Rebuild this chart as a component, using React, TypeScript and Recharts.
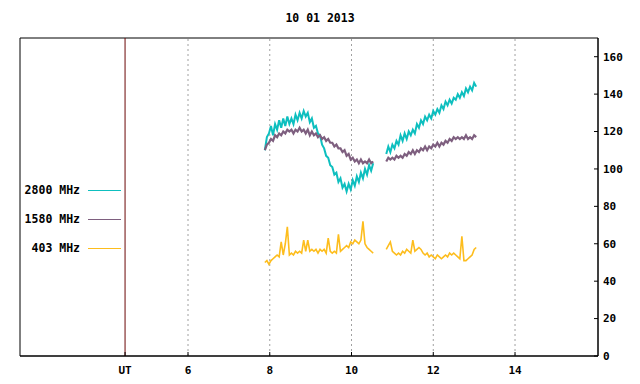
import React from 'react';
import { LineChart, Line, XAxis, YAxis, ReferenceLine, ReferenceArea } from 'recharts';

const title = '10 01 2013';
const seriesNames = ['2800 MHz', '1580 MHz', '403 MHz'];
const seriesColors = ['#0ebfbf', '#7e5f7f', '#fdbd1d'];

const times1 = [7.88, 7.93, 7.98, 8.03, 8.08, 8.13, 8.18, 8.23, 8.28, 8.33, 8.38, 8.43, 8.48, 8.53, 8.58, 8.63, 8.68, 8.73, 8.78, 8.83, 8.88, 8.93, 8.98, 9.03, 9.08, 9.13, 9.18, 9.23, 9.28, 9.33, 9.38, 9.43, 9.48, 9.53, 9.58, 9.63, 9.68, 9.73, 9.78, 9.83, 9.88, 9.93, 9.98, 10.03, 10.08, 10.13, 10.18, 10.23, 10.28, 10.33, 10.38, 10.43, 10.48, 10.53];
const gapTime = 10.7;
const times2 = [10.85, 10.9, 10.95, 11.0, 11.05, 11.1, 11.15, 11.2, 11.25, 11.3, 11.35, 11.4, 11.45, 11.5, 11.55, 11.6, 11.65, 11.7, 11.75, 11.8, 11.85, 11.9, 11.95, 12.0, 12.05, 12.1, 12.15, 12.2, 12.25, 12.3, 12.35, 12.4, 12.45, 12.5, 12.55, 12.6, 12.65, 12.7, 12.75, 12.8, 12.85, 12.9, 12.95, 13.0, 13.05];

const mhz2800a = [110, 117, 119, 123, 118, 124, 121, 126, 122, 127, 123, 128, 124, 127, 124, 129, 126, 130, 127, 131, 128, 130, 125, 127, 122, 123, 119, 118, 113, 111, 107, 106, 102, 101, 97, 98, 93, 95, 90, 92, 88, 92, 89, 94, 91, 96, 93, 98, 95, 100, 97, 102, 99, 103];
const mhz2800b = [108, 112, 109, 113, 111, 115, 113, 118, 115, 119, 116, 120, 118, 121, 119, 124, 122, 126, 124, 128, 126, 129, 127, 131, 129, 132, 130, 134, 132, 136, 134, 137, 135, 138, 137, 140, 138, 141, 139, 143, 141, 144, 142, 146, 144];

const mhz1580a = [110, 113, 114, 116, 115, 118, 117, 119, 118, 120, 119, 121, 120, 121, 119, 121, 120, 122, 120, 121, 119, 121, 118, 120, 118, 119, 117, 118, 116, 117, 115, 116, 114, 114, 112, 113, 111, 111, 109, 110, 107, 108, 105, 106, 104, 105, 103, 105, 103, 104, 103, 105, 103, 104];
const mhz1580b = [104, 106, 105, 106, 105, 107, 106, 107, 106, 108, 107, 109, 108, 110, 108, 110, 109, 111, 110, 112, 110, 112, 111, 113, 112, 114, 112, 114, 113, 115, 114, 116, 115, 117, 116, 117, 116, 117, 116, 118, 116, 117, 116, 118, 117];

const mhz403a = [50, 51, 49, 51, 52, 53, 54, 53, 61, 54, 60, 69, 54, 55, 54, 56, 55, 56, 55, 62, 56, 62, 56, 57, 56, 57, 55, 57, 56, 57, 55, 63, 56, 55, 56, 55, 65, 56, 57, 58, 59, 58, 61, 60, 62, 61, 60, 62, 72, 60, 58, 57, 56, 55];
const mhz403b = [57, 59, 61, 56, 55, 54, 55, 54, 56, 55, 57, 56, 55, 62, 56, 57, 58, 57, 55, 54, 55, 53, 54, 53, 52, 54, 53, 52, 53, 54, 53, 55, 54, 55, 54, 53, 52, 64, 51, 51, 52, 53, 54, 57, 58];

const xTicks = [4.46, 6, 8, 10, 12, 14];
const xTickLabels = ['UT', '6', '8', '10', '12', '14'];
const gridTimes = [6, 8, 10, 12, 14];
const utTime = 4.46;
const yTicks = [0, 20, 40, 60, 80, 100, 120, 140, 160];
const xDomain = [1.89, 16.03];
const yDomain = [0, 170];

type Row = { t: number; a: number | null; b: number | null; c: number | null };
const data: Row[] = [
  ...times1.map((t, i) => ({ t, a: mhz2800a[i], b: mhz1580a[i], c: mhz403a[i] })),
  { t: gapTime, a: null, b: null, c: null },
  ...times2.map((t, i) => ({ t, a: mhz2800b[i], b: mhz1580b[i], c: mhz403b[i] })),
];

const FONT = '"DejaVu Sans Mono", "Liberation Mono", monospace';
const tickStyle = { fontFamily: FONT, fontSize: 11, fontWeight: 700, fill: '#000' };

const LegendBox = () => (
  <div style={{ position: 'absolute', left: 0, top: 183, width: 125, height: 90, fontFamily: FONT, fontSize: 11.5, fontWeight: 700 }}>
    {seriesNames.map((n, i) => (
      <div key={n} style={{ position: 'absolute', left: 0, top: i * 29, width: 125, height: 14 }}>
        <span style={{ position: 'absolute', right: 45, top: 0, lineHeight: '14px', whiteSpace: 'nowrap', color: '#000' }}>{n}</span>
        <span style={{ position: 'absolute', left: 88, width: 33, top: 7, height: 0, borderTop: `1px solid ${seriesColors[i]}` }} />
      </div>
    ))}
  </div>
);

export default function App() {
  return (
    <div style={{ position: 'absolute', left: 0, top: 0, width: 640, height: 384, background: '#fff' }}>
      <div style={{ position: 'absolute', left: 0, top: 11, width: 640, textAlign: 'center', fontFamily: FONT, fontSize: 11.5, fontWeight: 700 }}>{title}</div>
      <LineChart width={640} height={384} data={data} margin={{ top: 38, left: 20, right: 0, bottom: 0 }}>
        <XAxis
          dataKey="t"
          type="number"
          domain={xDomain}
          allowDataOverflow
          ticks={xTicks}
          interval={0}
          tickFormatter={(v: number) => xTickLabels[xTicks.indexOf(v)] ?? String(v)}
          tick={tickStyle}
          tickSize={-4}
          tickMargin={14}
          height={28}
          stroke="#000"
          tickLine={{ stroke: '#000' }}
        />
        <YAxis
          orientation="right"
          type="number"
          domain={yDomain}
          allowDataOverflow
          ticks={yTicks}
          interval={0}
          tick={tickStyle}
          tickSize={-4}
          tickMargin={9}
          width={42}
          stroke="#000"
          tickLine={{ stroke: '#000' }}
        />
        {gridTimes.map((g) => (
          <ReferenceLine key={g} x={g} stroke="#a0a0a0" strokeDasharray="2 3" />
        ))}
        <ReferenceLine x={utTime} stroke="#6a0606" />
        <ReferenceArea x1={xDomain[0]} x2={xDomain[1]} y1={yDomain[0]} y2={yDomain[1]} fill="none" stroke="#000" fillOpacity={0} />
        <Line dataKey="a" stroke={seriesColors[0]} strokeWidth={2} dot={false} isAnimationActive={false} connectNulls={false} />
        <Line dataKey="b" stroke={seriesColors[1]} strokeWidth={2.2} dot={false} isAnimationActive={false} connectNulls={false} />
        <Line dataKey="c" stroke={seriesColors[2]} strokeWidth={1.6} dot={false} isAnimationActive={false} connectNulls={false} />
      </LineChart>
      <LegendBox />
    </div>
  );
}
